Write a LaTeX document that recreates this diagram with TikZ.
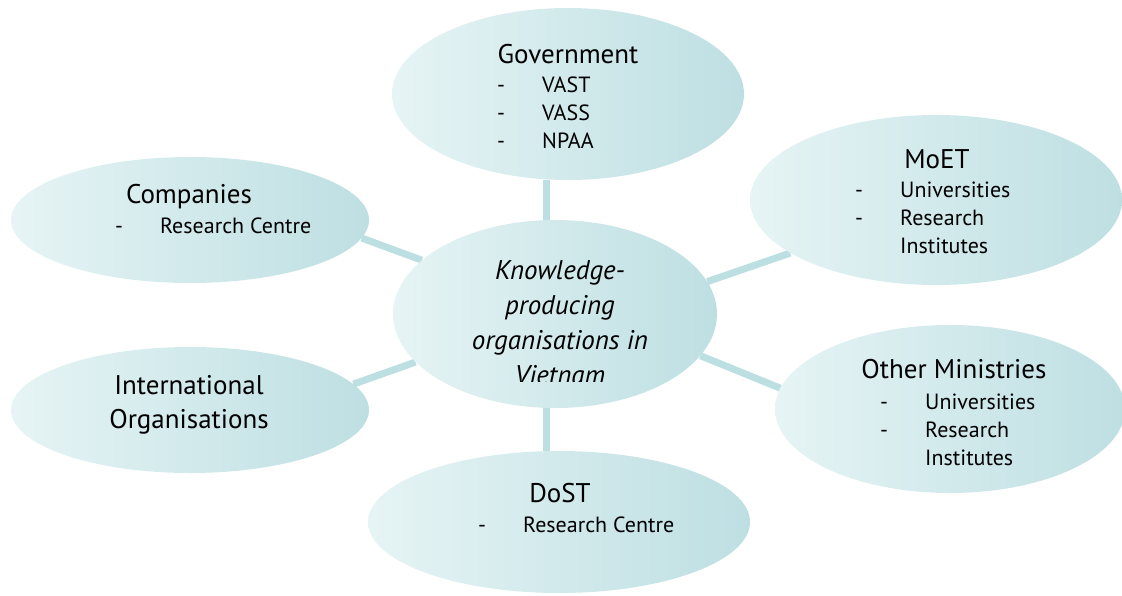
\documentclass[tikz,border=0pt]{standalone}
\usepackage{fontspec}
\setmainfont{PT Sans}
\usetikzlibrary{shapes.geometric,backgrounds}

\definecolor{bubblelight}{HTML}{E6F4F5}
\definecolor{bubbledark}{HTML}{BEDFE2}
\definecolor{linkcol}{HTML}{BCDFE2}
\newcommand{\dashitem}[1]{\makebox[45pt][l]{-}#1}
\newcommand{\contitem}[1]{\hspace*{45pt}#1}

\begin{document}
\begin{tikzpicture}[x=1pt,y=-1pt,bubble/.style={ellipse,inner sep=0pt,left color=bubblelight,right color=bubbledark}, link/.style={line width=7pt,draw=linkcol}, title/.style={anchor=base,inner sep=0pt,font=\fontsize{27}{34}\selectfont}, items/.style={anchor=base west,align=left,inner sep=0pt,font=\fontsize{22}{28}\selectfont}]
\useasboundingbox (0,0) rectangle (1122,595);

\node(gov)[bubble,minimum width=352,minimum height=172] at (568,94) {};
\node(ctr)[bubble,minimum width=324,minimum height=188] at (555,314) {};
\node(moet)[bubble,minimum width=372,minimum height=170] at (936,200) {};
\node(comp)[bubble,minimum width=358,minimum height=126] at (190,220) {};
\node(intl)[bubble,minimum width=358,minimum height=126] at (190,410) {};
\node(other)[bubble,minimum width=350,minimum height=168] at (950,409) {};
\node(dost)[bubble,minimum width=382,minimum height=142] at (559,522) {};

% multi-line nodes: base is the last line
\node(gov-t)[title] at (568,63) {Government};
\node(gov-l)[items] at (497,148) {\dashitem{VAST}\\\dashitem{VASS}\\\dashitem{NPAA}};
\node(moet-t)[title] at (937,168) {MoET};
\node(moet-l)[items] at (855,253) {\dashitem{Universities}\\\dashitem{Research}\\\contitem{Institutes}};
\node(comp-t)[title] at (189,203) {Companies};
\node(comp-l)[items] at (115,233) {\dashitem{Research Centre}};
\node(intl-t)[title,align=center] at (189,428) {International\\Organisations};
\node(other-t)[title] at (954,378) {Other Ministries};
\node(other-l)[items] at (880,465) {\dashitem{Universities}\\\dashitem{Research}\\\contitem{Institutes}};
\node(dost-t)[title] at (560,502) {DoST};
\node(dost-l)[items] at (478,532) {\dashitem{Research Centre}};

\begin{scope}
\clip (380,230) rectangle (730,381);
\node(ctr-t)[title,align=center,font=\itshape\fontsize{27}{35}\selectfont] at (560,384) {Knowledge-\\producing\\organisations in\\Vietnam};
\end{scope}

\begin{scope}[on background layer]
\draw [link] (ctr.95) -- (ctr.95 |- gov.south);
\draw [link] (ctr.265) -- (ctr.265 |- dost.north);
\draw [link] (ctr.158) -- (comp.-6);
\draw [link] (ctr.199) -- (intl.9);
\draw [link] (ctr.12) -- (moet.200);
\draw [link] (ctr.-16) -- (other.173);
\end{scope}
\end{tikzpicture}
\end{document}
